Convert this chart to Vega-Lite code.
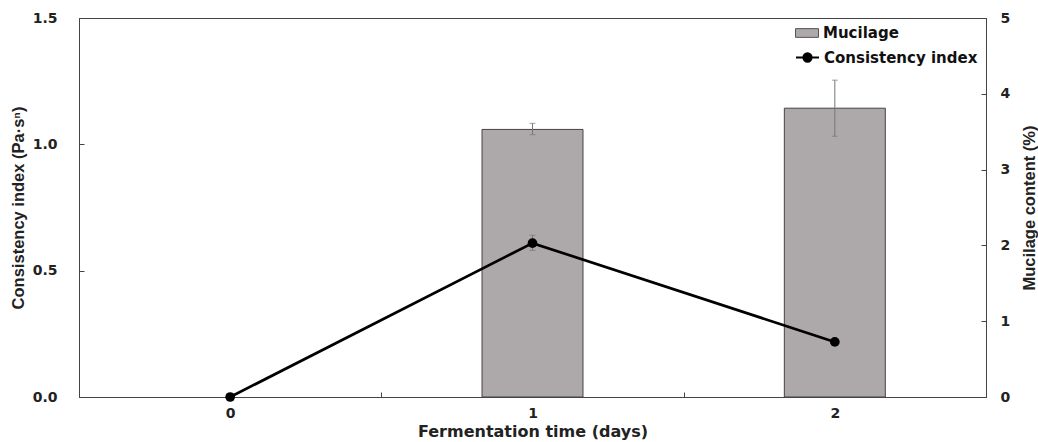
{
  "$schema": "https://vega.github.io/schema/vega-lite/v6.json",
  "autosize": "none",
  "width": 907,
  "height": 379,
  "padding": {"left": 79, "top": 18, "right": 52, "bottom": 45},
  "background": "white",
  "config": {
    "view": {"stroke": "#444", "strokeWidth": 1},
    "axis": {
      "labelFont": "DejaVu Sans",
      "labelFontWeight": "bold",
      "labelFontSize": 14,
      "labelColor": "#222",
      "titleFont": "Liberation Sans",
      "titleFontWeight": "bold",
      "titleFontSize": 16.5,
      "titleColor": "#222",
      "domainColor": "#444",
      "tickColor": "#444",
      "grid": false
    },
    "legend": {
      "labelFont": "DejaVu Sans",
      "labelFontWeight": "bold",
      "labelFontSize": 15,
      "labelColor": "#111",
      "labelLimit": 400,
      "padding": 0,
      "symbolSize": 529,
      "labelOffset": 4,
      "rowPadding": 0
    }
  },
  "data": {
    "values": [
      {"day": "0", "consistency": 0.0, "ci_lo": null, "ci_hi": null, "mucilage": null, "muc_lo": null, "muc_hi": null},
      {"day": "1", "consistency": 0.609, "ci_lo": 0.58, "ci_hi": 0.64, "mucilage": 3.53, "muc_lo": 3.46, "muc_hi": 3.61},
      {"day": "2", "consistency": 0.218, "ci_lo": 0.212, "ci_hi": 0.224, "mucilage": 3.81, "muc_lo": 3.44, "muc_hi": 4.18}
    ]
  },
  "encoding": {
    "x": {
      "field": "day",
      "type": "nominal",
      "title": "Fermentation time (days)",
      "scale": {"paddingInner": 0, "paddingOuter": 0},
      "axis": {
        "labelAngle": 0,
        "tickBand": "extent",
        "tickSize": -5,
        "labelPadding": 14,
        "titlePadding": 3,
        "titleFont": "DejaVu Sans",
        "titleFontSize": 16,
        "domain": true
      }
    }
  },
  "layer": [
    {
      "layer": [
        {
          "transform": [{"filter": "datum.mucilage != null"}],
          "mark": {"type": "bar", "width": {"band": 0.334}, "stroke": "#444", "strokeWidth": 1},
          "encoding": {
            "y": {
              "field": "mucilage",
              "type": "quantitative",
              "title": "Mucilage content (%)",
              "scale": {"domain": [0, 5], "nice": false},
              "axis": {
                "orient": "right",
                "values": [0, 1, 2, 3, 4, 5],
                "format": "d",
                "tickSize": -5,
                "labelPadding": 19,
                "titlePadding": 12,
                "titleAngle": -90,
                "titleBaseline": "top"
              }
            },
            "fill": {
              "datum": "Mucilage",
              "type": "nominal",
              "scale": {"range": ["#ADA8A9"]},
              "legend": {
                "title": null,
                "orient": "none",
                "legendX": 716,
                "legendY": 3,
                "symbolType": "M-1,-0.38H1V0.38H-1Z",
                "symbolStrokeColor": "#555",
                "symbolStrokeWidth": 1
              }
            }
          }
        },
        {
          "transform": [{"filter": "datum.muc_lo != null"}],
          "mark": {"type": "errorbar", "ticks": {"size": 6, "color": "#777", "strokeWidth": 1}, "rule": {"color": "#777", "strokeWidth": 1}},
          "encoding": {
            "y": {"field": "muc_lo", "type": "quantitative", "title": "Mucilage content (%)"},
            "y2": {"field": "muc_hi"}
          }
        }
      ]
    },
    {
      "layer": [
        {
          "mark": {"type": "line", "strokeWidth": 2.7},
          "encoding": {
            "y": {
              "field": "consistency",
              "type": "quantitative",
              "title": "Consistency index (Pa·sⁿ)",
              "scale": {"domain": [0, 1.5], "nice": false},
              "axis": {
                "orient": "left",
                "values": [0, 0.5, 1.0, 1.5],
                "format": ".1f",
                "tickSize": -5,
                "labelPadding": 27,
                "titlePadding": 6
              }
            },
            "stroke": {
              "datum": "Consistency index",
              "type": "nominal",
              "scale": {"range": ["#000000"]},
              "legend": {
                "title": null,
                "orient": "none",
                "legendX": 716,
                "legendY": 27,
                "symbolType": "M-1,0H1M-0.36,0A0.36,0.36,0,1,0,0.36,0A0.36,0.36,0,1,0,-0.36,0Z",
                "symbolFillColor": "#000",
                "symbolStrokeWidth": 2
              }
            }
          }
        },
        {
          "transform": [{"filter": "datum.ci_lo != null"}],
          "mark": {"type": "errorbar", "ticks": {"size": 6, "color": "#777", "strokeWidth": 1}, "rule": {"color": "#777", "strokeWidth": 1}},
          "encoding": {
            "y": {"field": "ci_lo", "type": "quantitative", "title": "Consistency index (Pa·sⁿ)"},
            "y2": {"field": "ci_hi"}
          }
        },
        {
          "mark": {"type": "point", "filled": true, "size": 95, "color": "#000", "opacity": 1},
          "encoding": {
            "y": {"field": "consistency", "type": "quantitative", "title": "Consistency index (Pa·sⁿ)"}
          }
        }
      ]
    }
  ],
  "resolve": {"scale": {"y": "independent", "fill": "independent", "stroke": "independent"}}
}
